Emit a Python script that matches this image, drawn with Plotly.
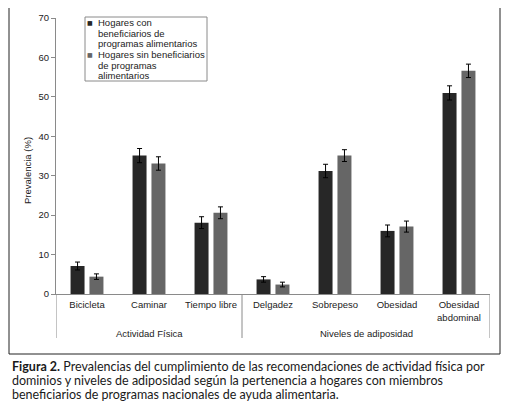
import plotly.graph_objects as go

categories = ["Bicicleta", "Caminar", "Tiempo libre", "Delgadez", "Sobrepeso", "Obesidad", "Obesidad<br>abdominal"]
series_names = ["Hogares con beneficiarios de programas alimentarios",
                "Hogares sin beneficiarios de programas alimentarios"]
legend_lines = [["Hogares con", "beneficiarios de", "programas alimentarios"],
                ["Hogares sin beneficiarios", "de programas", "alimentarios"]]
con_vals = [7.1, 35.1, 18.1, 3.7, 31.2, 16.0, 51.0]
sin_vals = [4.4, 33.1, 20.6, 2.4, 35.1, 17.1, 56.6]
con_err = [1.0, 1.8, 1.5, 0.7, 1.7, 1.5, 1.8]
sin_err = [0.7, 1.7, 1.5, 0.6, 1.5, 1.4, 1.7]
groups = ["Actividad Física", "Niveles de adiposidad"]
y_title = "Prevalencia (%)"
caption = ["<b>Figura 2.</b> Prevalencias del cumplimiento de las recomendaciones de actividad física por",
           "dominios y niveles de adiposidad según la pertenencia a hogares con miembros",
           "beneficiarios de programas nacionales de ayuda alimentaria."]

colors = ["#272727", "#666666"]

OFF = 8  # page body margin
W, H = 511 - OFF, 407 - OFF
L, R, T, B = 56 - OFF, 21, 18 - OFF, 113
PW, PH = W - L - R, H - T - B

def px(x):
    return (x - OFF - L) / PW

def py(y):
    return (H - B - (y - OFF)) / PH

fig = go.Figure()
for name, vals, err, col in zip(series_names, [con_vals, sin_vals], [con_err, sin_err], colors):
    fig.add_trace(go.Bar(
        x=categories, y=vals, name=name, marker_color=col, marker_line_width=0,
        error_y=dict(type="data", array=err, visible=True, color="#000000", thickness=1, width=2.5),
        showlegend=False,
    ))

font_main = "Liberation Sans, Arial, sans-serif"
FS = 9.5

shapes = []
# outer frame
shapes.append(dict(type="rect", xref="paper", yref="paper", x0=px(9), x1=px(500), y0=py(354), y1=py(6),
                   line=dict(color="#222222", width=1)))
# group separators
for xv in [-0.5, 2.5, 6.5]:
    shapes.append(dict(type="line", xref="x", yref="paper", x0=xv, x1=xv, y0=0, y1=py(338),
                       line=dict(color="#8a8a8a", width=1)))
# legend box
shapes.append(dict(type="rect", xref="paper", yref="paper", x0=px(85), x1=px(207), y0=py(81), y1=py(17),
                   line=dict(color="#8a8a8a", width=1), fillcolor="white"))

annotations = []
# legend text
line_y = [22.7, 33.3, 44.0, 54.6, 65.2, 75.8]
k = 0
for si, lines in enumerate(legend_lines):
    for li, t in enumerate(lines):
        annotations.append(dict(xref="paper", yref="paper", x=px(95.5), y=py(line_y[k]), xanchor="left", yanchor="middle",
                                text=t, showarrow=False, font=dict(family=font_main, size=FS, color="#222222")))
        if li == 0:
            annotations.append(dict(xref="paper", yref="paper", x=px(95), y=py(line_y[k]), xanchor="right", yanchor="middle",
                                    text="■", showarrow=False, font=dict(family="DejaVu Sans", size=6, color=colors[si])))
        k += 1
# y title
annotations.append(dict(xref="paper", yref="paper", x=px(27), y=py(171), text=y_title, textangle=-90, showarrow=False,
                        xanchor="center", yanchor="middle", font=dict(family=font_main, size=FS, color="#222222")))
# group labels
annotations.append(dict(xref="x", yref="paper", x=1, y=py(333), text=groups[0], showarrow=False,
                        xanchor="center", yanchor="middle", font=dict(family=font_main, size=FS, color="#222222")))
annotations.append(dict(xref="x", yref="paper", x=4.5, y=py(333), text=groups[1], showarrow=False,
                        xanchor="center", yanchor="middle", font=dict(family=font_main, size=FS, color="#222222")))
# caption
for i, t in enumerate(caption):
    annotations.append(dict(xref="paper", yref="paper", x=px(10), y=py(366 + 14 * i), text=t, showarrow=False,
                            xanchor="left", yanchor="middle", font=dict(family="Lato, sans-serif", size=12.5, color="#1a1a1a")))

fig.update_layout(
    width=W, height=H, margin=dict(l=L, r=R, t=T, b=B, autoexpand=False),
    paper_bgcolor="white", plot_bgcolor="white",
    barmode="group", bargap=0.39, bargroupgap=0.26,
    shapes=shapes, annotations=annotations,
    font=dict(family=font_main, size=FS, color="#222222"),
    xaxis=dict(range=[-0.5, 6.5], showline=True, linecolor="#8a8a8a", linewidth=1, ticks="",
               showgrid=False, tickfont=dict(size=FS), ticklabelstandoff=2),
    yaxis=dict(range=[0, 70], dtick=10, showline=True, linecolor="#8a8a8a", linewidth=1, ticks="outside",
               ticklen=4, tickcolor="#8a8a8a", showgrid=False, zeroline=False, tickfont=dict(size=FS)),
)

fig.write_html("out.html")
